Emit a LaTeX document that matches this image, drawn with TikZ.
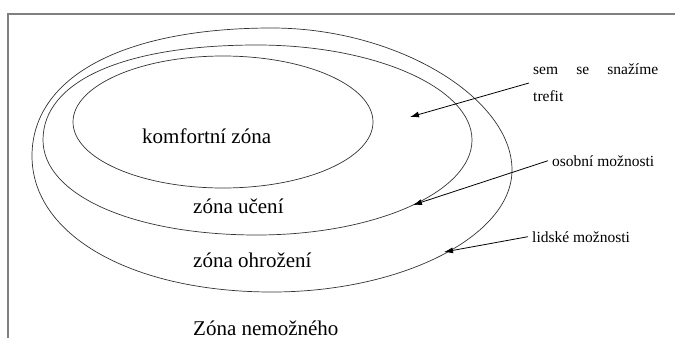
\documentclass[tikz,border=0pt]{standalone}
\usepackage{fontspec}
\setmainfont{Liberation Serif}
\usetikzlibrary{arrows.meta}

\tikzset{
  zone/.style={draw=black!80, line width=0.7bp},
  bigtext/.style={font=\fontsize{21bp}{25bp}\selectfont, anchor=base west, inner sep=0pt},
  note/.style={font=\fontsize{15.5bp}{27bp}\selectfont, inner sep=4bp},
  pointer/.style={-{Latex[length=9bp,width=6bp]}, line width=0.8bp},
}

\begin{document}
\begin{tikzpicture}[x=1bp,y=1bp]
  \useasboundingbox (0,0) rectangle (675,338);
  % frame
  \draw[gray, line width=1.5bp] (8,0) |- (675,324);

  % the three zones, outermost first (the outer two are a bit fuller at top left)
  \draw[zone, shift={(272,178)}]
    (-240,4) .. controls (-240,83) and (-149,132) .. (0,132)
    .. controls (125,132) and (240,62) .. (240,-10)
    .. controls (240,-76) and (130,-132) .. (0,-132)
    .. controls (-139,-132) and (-240,-76) .. cycle;
  \draw[zone, shift={(257,198)}]
    (-214,0) .. controls (-214,59) and (-133,95) .. (0,95)
    .. controls (118,95) and (215,52) .. (215,0)
    .. controls (215,-52) and (118,-95) .. (0,-95)
    .. controls (-124,-95) and (-214,-55) .. cycle;
  \draw[zone] (223,216) ellipse [x radius=150, y radius=66];

  \node[bigtext] (comfort) at (142,195) {komfortní zóna};
  \node[bigtext] (learning) at (193,125) {zóna učení};
  \node[bigtext] (danger) at (193,71) {zóna ohrožení};
  \node[bigtext] (impossible) at (193,3) {Zóna nemožného};

  % side notes
  \node[note, anchor=west, align=left] (aim) at (529,255)
    {\makebox[125bp][s]{sem se snažíme}\\trefit};
  \node[note, anchor=base west] (personal) at (548,172) {osobní možnosti};
  \node[note, anchor=base west] (human) at (528,96) {lidské možnosti};

  \coordinate (target) at (410,221);
  \coordinate (personaledge) at (413,133);
  \coordinate (humanedge) at (444,86);
  \draw[pointer] (aim.west) -- (target);
  \draw[pointer] (personal.west) -- (personaledge);
  \draw[pointer] (human.west) -- (humanedge);
\end{tikzpicture}
\end{document}
